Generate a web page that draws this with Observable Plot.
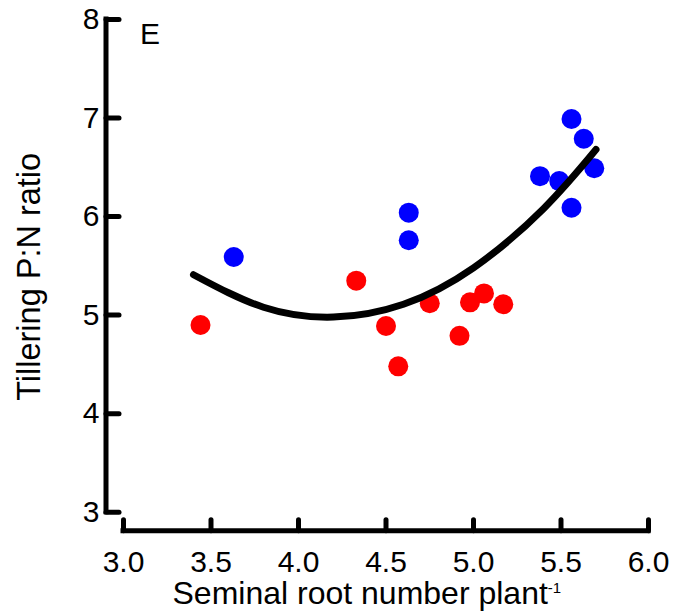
<!DOCTYPE html>
<html>
<head>
<meta charset="utf-8">
<script src="https://cdn.jsdelivr.net/npm/d3@7"></script>
<script src="https://cdn.jsdelivr.net/npm/@observablehq/plot@0.6"></script>
<style>
  body { margin: 0; background: #fff; }
  #chart svg { display: block; }
</style>
</head>
<body>
<div id="chart"></div>
<script>
// Axis ticks
const xTicks = [3.0, 3.5, 4.0, 4.5, 5.0, 5.5, 6.0];
const yTicks = [3, 4, 5, 6, 7, 8];

// Blue group: seminal root number vs tillering P:N ratio
const blueX = [3.63, 4.63, 4.63, 5.38, 5.49, 5.56, 5.63, 5.69, 5.56];
const blueY = [5.59, 6.04, 5.76, 6.41, 6.36, 6.99, 6.79, 6.49, 6.09];

// Red group
const redX = [3.44, 4.33, 4.50, 4.57, 4.75, 4.92, 4.98, 5.06, 5.17];
const redY = [4.90, 5.35, 4.89, 4.48, 5.12, 4.79, 5.13, 5.22, 5.11];

// Quadratic fit curve
const fitX = [3.40, 3.80, 4.20, 4.60, 5.00, 5.40, 5.70];
const fitY = [5.41, 5.08, 4.98, 5.11, 5.48, 6.08, 6.68];

const panelLabel = "E";
const xTitle = "Seminal root number plant";
const xTitleSup = "-1";
const yTitle = "Tillering P:N ratio";

const blue = blueX.map((x, i) => ({x, y: blueY[i]}));
const red = redX.map((x, i) => ({x, y: redY[i]}));
const fit = fitX.map((x, i) => ({x, y: fitY[i]}));

const font = "'Liberation Sans', Arial, sans-serif";
const axisWidth = 5;
const xOffset = 18.5;   // x axis sits below the plot frame
const yOffset = -17.5;  // y axis sits left of the plot frame

// straight tick drawn from the anchor point outward
const tickShape = {draw(ctx, l) { ctx.moveTo(0, 0); ctx.lineTo(0, -l); }};

const chart = Plot.plot({
  width: 674,
  height: 613,
  marginLeft: 123,
  marginRight: 26,
  marginTop: 19,
  marginBottom: 101.3,
  style: {fontFamily: font, fontSize: "30px", color: "#000", background: "#fff"},
  x: {domain: [xTicks[0], xTicks[xTicks.length - 1]]},
  y: {domain: [yTicks[0], yTicks[yTicks.length - 1]]},
  marks: [
    // x axis line + inward ticks
    Plot.ruleY([yTicks[0]], {
      x1: () => xTicks[0], x2: () => xTicks[xTicks.length - 1],
      dy: xOffset, stroke: "#000", strokeWidth: axisWidth, strokeLinecap: "square"
    }),
    Plot.vector(xTicks, {
      x: d => d, y: () => yTicks[0], length: 11, rotate: 0, anchor: "start",
      shape: tickShape, dy: xOffset, stroke: "#000", strokeWidth: axisWidth
    }),
    Plot.axisX({
      ticks: xTicks, tickSize: 0, tickPadding: 20, dy: xOffset,
      tickFormat: d3.format(".1f"), fontSize: 30, label: null
    }),
    // y axis line + inward ticks
    Plot.ruleX([xTicks[0]], {
      y1: () => yTicks[0], y2: () => yTicks[yTicks.length - 1],
      dx: yOffset, stroke: "#000", strokeWidth: axisWidth, strokeLinecap: "square"
    }),
    Plot.vector(yTicks, {
      x: () => xTicks[0], y: d => d, length: 13, rotate: 90, anchor: "start",
      shape: tickShape, dx: yOffset, stroke: "#000", strokeWidth: axisWidth
    }),
    Plot.axisY({
      ticks: yTicks, tickSize: 0, tickPadding: 6.5, dx: yOffset,
      tickFormat: d3.format("d"), fontSize: 30, label: null
    }),
    // data points
    Plot.dot(red, {x: "x", y: "y", r: 10, fill: "#ff0000"}),
    Plot.dot(blue, {x: "x", y: "y", r: 10, fill: "#0000ff"}),
    // fitted curve
    Plot.line(fit, {
      x: "x", y: "y", curve: "natural", stroke: "#000",
      strokeWidth: 7, strokeLinecap: "round"
    }),
    // panel letter
    Plot.text([panelLabel], {
      frameAnchor: "top-left", dx: 16.5, dy: 24, textAnchor: "start",
      lineAnchor: "bottom", fontSize: 30, fill: "#000"
    }),
    // axis titles
    Plot.text([xTitle], {
      frameAnchor: "bottom-left", dx: 49, dy: 91.3, textAnchor: "start",
      lineAnchor: "bottom", fontSize: 32, fill: "#000", className: "x-title"
    }),
    Plot.text([yTitle], {
      frameAnchor: "left", rotate: -90, dx: -83.7, dy: 11, textAnchor: "middle",
      lineAnchor: "bottom", fontSize: 32.5, fill: "#000"
    })
  ]
});

// superscript unit exponent on the x title
d3.select(chart).select(".x-title text")
  .append("tspan")
  .attr("dy", -11)
  .attr("font-size", 15)
  .text(xTitleSup);

document.getElementById("chart").append(chart);
</script>
</body>
</html>
